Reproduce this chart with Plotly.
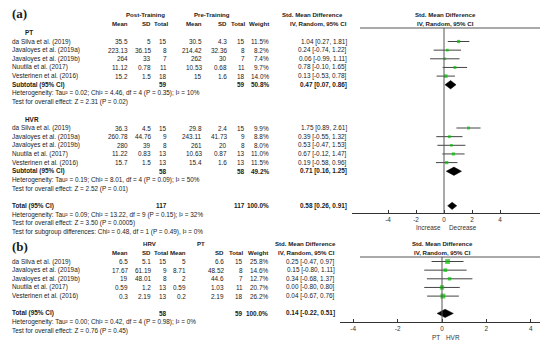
import plotly.graph_objects as go

W, H = 550, 344
FONT = "Arial, Liberation Sans, sans-serif"
TXT = "#1a1a1a"
FS = 6.4
FSH = 6.1

studies = ["da Silva et al. (2019)", "Javaloyes et al. (2019a)", "Javaloyes et al. (2019b)",
           "Nuutila et al. (2017)", "Vesterinen et al. (2016)"]

# ---- Panel (a), subgroup PT ----
pt_post_mean = [35.5, 223.13, 264, 11.12, 15.2]
pt_post_sd = [5, 36.15, 33, 0.78, 1.5]
pt_post_n = [15, 8, 7, 11, 18]
pt_pre_mean = [30.5, 214.42, 262, 10.53, 15]
pt_pre_sd = [4.3, 32.36, 30, 0.68, 1.6]
pt_pre_n = [15, 8, 7, 11, 18]
pt_weight = [11.5, 8.2, 7.4, 9.7, 14.0]
pt_smd = [1.04, 0.24, 0.06, 0.78, 0.13]
pt_lo = [0.27, -0.74, -0.99, -0.10, -0.53]
pt_hi = [1.81, 1.22, 1.11, 1.65, 0.78]
pt_sub = dict(n1=59, n2=59, w=50.8, est=0.47, lo=0.07, hi=0.86)
pt_het = "Heterogeneity: Tau² = 0.02; Chi² = 4.46, df = 4 (P = 0.35); I² = 10%"
pt_test = "Test for overall effect: Z = 2.31 (P = 0.02)"

# ---- Panel (a), subgroup HVR ----
hvr_post_mean = [36.3, 260.78, 280, 11.22, 15.7]
hvr_post_sd = [4.5, 44.76, 39, 0.83, 1.5]
hvr_post_n = [15, 9, 8, 13, 13]
hvr_pre_mean = [29.8, 243.11, 261, 10.63, 15.4]
hvr_pre_sd = [2.4, 41.73, 20, 0.87, 1.6]
hvr_pre_n = [15, 9, 8, 13, 13]
hvr_weight = [9.9, 8.8, 8.0, 11.0, 11.5]
hvr_smd = [1.75, 0.39, 0.53, 0.67, 0.19]
hvr_lo = [0.89, -0.55, -0.47, -0.12, -0.58]
hvr_hi = [2.61, 1.32, 1.53, 1.47, 0.96]
hvr_sub = dict(n1=58, n2=58, w=49.2, est=0.71, lo=0.16, hi=1.25)
hvr_het = "Heterogeneity: Tau² = 0.19; Chi² = 8.01, df = 4 (P = 0.09); I² = 50%"
hvr_test = "Test for overall effect: Z = 2.52 (P = 0.01)"

a_total = dict(n1=117, n2=117, w=100.0, est=0.58, lo=0.26, hi=0.91)
a_total_het = "Heterogeneity: Tau² = 0.09; Chi² = 13.22, df = 9 (P = 0.15); I² = 32%"
a_total_test = "Test for overall effect: Z = 3.50 (P = 0.0005)"
a_subgroup = "Test for subgroup differences: Chi² = 0.48, df = 1 (P = 0.49), I² = 0%"

# ---- Panel (b) ----
b_hrv_mean = [6.5, 17.67, 19, 0.59, 0.3]
b_hrv_sd = [5.1, 61.19, 48.01, 1.2, 2.19]
b_hrv_n = [15, 9, 8, 13, 13]
b_pt_mean = [5, 8.71, 2, 0.59, 0.2]
b_pt_sd = [6.6, 48.52, 44.6, 1.03, 2.19]
b_pt_n = [15, 8, 7, 11, 18]
b_weight = [25.8, 14.6, 12.7, 20.7, 26.2]
b_smd = [0.25, 0.15, 0.34, 0.00, 0.04]
b_lo = [-0.47, -0.80, -0.68, -0.80, -0.67]
b_hi = [0.97, 1.11, 1.37, 0.80, 0.76]
b_total = dict(n1=58, n2=59, w=100.0, est=0.14, lo=-0.22, hi=0.51)
b_het = "Heterogeneity: Tau² = 0.00; Chi² = 0.42, df = 4 (P = 0.98); I² = 0%"
b_test = "Test for overall effect: Z = 0.76 (P = 0.45)"

tick_vals = [-4, -2, 0, 2, 4]
tick_text = ["-4", "-2", "0", "2", "4"]

# ---------------- layout helpers ----------------
PITCH = 8.65
A_Y0 = 41.5
B_Y0 = 261.5


def pr(pix, y0):
    return (pix - y0) / PITCH


ann = []


def txt(x, y, s, yref, anchor="left", bold=False, size=FS, color=TXT, family=FONT):
    ann.append(dict(x=x / W, xref="paper", y=y, yref=yref,
                    text=f"<b>{s}</b>" if bold else s, showarrow=False,
                    xanchor=anchor, yanchor="middle",
                    font=dict(family=family, size=size, color=color),
                    borderpad=0, borderwidth=0))


def g(v):
    return f"{v:g}"


def ci(e, l, h):
    return f"{e:.2f} [{l:.2f}, {h:.2f}]"


fig = go.Figure()

COLS_A = dict(name=12, m1=128, s1=151, n1=167, m2=202, s2=227, n2=245, w=269, ci=347)
COLS_B = dict(name=12, m1=128, s1=151, n1=167, m2=186, s2=224, n2=243, w=268, ci=335)

GREEN = "#00c000"
LINEC = "#444444"


def study_block(rows, cols, yref, m1, s1, n1, m2, s2, n2, w, e, lo, hi):
    for i, r in enumerate(rows):
        txt(cols["name"], r, studies[i], yref)
        txt(cols["m1"], r, g(m1[i]), yref, "right")
        txt(cols["s1"], r, g(s1[i]), yref, "right")
        txt(cols["n1"], r, g(n1[i]), yref, "right")
        txt(cols["m2"], r, g(m2[i]), yref, "right")
        txt(cols["s2"], r, g(s2[i]), yref, "right")
        txt(cols["n2"], r, g(n2[i]), yref, "right")
        txt(cols["w"], r, f"{w[i]:.1f}%", yref, "right")
        txt(cols["ci"], r, ci(e[i], lo[i], hi[i]), yref, "right")


def forest(rows, xa, ya, w, e, lo, hi):
    xs, ys = [], []
    for i, r in enumerate(rows):
        xs += [lo[i], hi[i], None]
        ys += [r, r, None]
    fig.add_trace(go.Scatter(x=xs, y=ys, mode="lines", line=dict(color=LINEC, width=1),
                             xaxis=xa, yaxis=ya, hoverinfo="skip", showlegend=False))
    fig.add_trace(go.Scatter(x=e, y=rows, mode="markers",
                             marker=dict(symbol="square", color=GREEN,
                                         size=[wi ** 0.5 * 0.95 for wi in w], line=dict(width=0)),
                             xaxis=xa, yaxis=ya, showlegend=False))


def diamond(r, d, xa, ya, hh=0.48):
    fig.add_trace(go.Scatter(x=[d["lo"], d["est"], d["hi"], d["est"], d["lo"]],
                             y=[r, r - hh, r, r + hh, r], mode="lines", fill="toself",
                             fillcolor="black", line=dict(color="black", width=0.5),
                             xaxis=xa, yaxis=ya, hoverinfo="skip", showlegend=False))


def summary_row(r, label, d, cols, yref):
    txt(cols["name"], r, label, yref, bold=True)
    txt(cols["n1"], r, g(d["n1"]), yref, "right", bold=True)
    txt(cols["n2"], r, g(d["n2"]), yref, "right", bold=True)
    txt(cols["w"], r, f"{d['w']:.1f}%", yref, "right", bold=True)
    txt(cols["ci"], r, ci(d["est"], d["lo"], d["hi"]), yref, "right", bold=True)


HEAD_KEYS = [("m1", "Mean"), ("s1", "SD"), ("n1", "Total"), ("m2", "Mean"), ("s2", "SD"),
             ("n2", "Total"), ("w", "Weight"), ("ci", "IV, Random, 95% CI")]

# ---------------- Panel (a) ----------------
ya = "y"
txt(12, pr(13, A_Y0), "(a)", ya, bold=True, size=13, family="Liberation Serif, Times New Roman, serif")
h1 = pr(14.5, A_Y0)
h2 = pr(23.3, A_Y0)
txt(145, h1, "Post-Training", ya, "center", bold=True, size=FSH)
txt(212, h1, "Pre-Training", ya, "center", bold=True, size=FSH)
txt(312, h1, "Std. Mean Difference", ya, "center", bold=True, size=FSH)
txt(445, h1, "Std. Mean Difference", ya, "center", bold=True, size=FSH)
for key, lab in HEAD_KEYS:
    txt(COLS_A[key] + (1 if key == "n1" else 0), h2, lab, ya, "right", bold=True, size=FSH)
txt(445, h2, "IV, Random, 95% CI", ya, "center", bold=True, size=FSH)

# PT group
txt(25, -1, "PT", ya, bold=True)
rows_pt = list(range(0, 5))
study_block(rows_pt, COLS_A, ya, pt_post_mean, pt_post_sd, pt_post_n, pt_pre_mean, pt_pre_sd,
            pt_pre_n, pt_weight, pt_smd, pt_lo, pt_hi)
forest(rows_pt, "x", "y", pt_weight, pt_smd, pt_lo, pt_hi)
summary_row(5, "Subtotal (95% CI)", pt_sub, COLS_A, ya)
diamond(5, pt_sub, "x", "y")
txt(12, 6, pt_het, ya)
txt(12, 7, pt_test, ya)

# HVR group
txt(25, 9, "HVR", ya, bold=True)
rows_hvr = list(range(10, 15))
study_block(rows_hvr, COLS_A, ya, hvr_post_mean, hvr_post_sd, hvr_post_n, hvr_pre_mean,
            hvr_pre_sd, hvr_pre_n, hvr_weight, hvr_smd, hvr_lo, hvr_hi)
forest(rows_hvr, "x", "y", hvr_weight, hvr_smd, hvr_lo, hvr_hi)
summary_row(15, "Subtotal (95% CI)", hvr_sub, COLS_A, ya)
diamond(15, hvr_sub, "x", "y")
txt(12, 16, hvr_het, ya)
txt(12, 17, hvr_test, ya)

summary_row(19, "Total (95% CI)", a_total, COLS_A, ya)
diamond(19, a_total, "x", "y", hh=0.42)
txt(12, 20, a_total_het, ya)
txt(12, 21, a_total_test, ya)
txt(12, 22, a_subgroup, ya)

txt(428, pr(227, A_Y0), "Increase", ya, "center", color="#333")
txt(463, pr(227, A_Y0), "Decrease", ya, "center", color="#333")

# ---------------- Panel (b) ----------------
yb = "y2"
txt(12, pr(246, B_Y0), "(b)", yb, bold=True, size=13, family="Liberation Serif, Times New Roman, serif")
hb1, hb2 = pr(243.5, B_Y0), pr(252.3, B_Y0)
txt(150, hb1, "HRV", yb, "center", bold=True, size=FSH)
txt(201, hb1, "PT", yb, "center", bold=True, size=FSH)
txt(305, hb1, "Std. Mean Difference", yb, "center", bold=True, size=FSH)
txt(442, hb1, "Std. Mean Difference", yb, "center", bold=True, size=FSH)
for key, lab in HEAD_KEYS:
    txt(COLS_B[key] + (1 if key == "n1" else 0), hb2, lab, yb, "right", bold=True, size=FSH)
txt(442, hb2, "IV, Random, 95% CI", yb, "center", bold=True, size=FSH)

rows_b = list(range(0, 5))
study_block(rows_b, COLS_B, yb, b_hrv_mean, b_hrv_sd, b_hrv_n, b_pt_mean, b_pt_sd, b_pt_n,
            b_weight, b_smd, b_lo, b_hi)
forest(rows_b, "x2", "y2", b_weight, b_smd, b_lo, b_hi)
summary_row(6, "Total (95% CI)", b_total, COLS_B, yb)
diamond(6, b_total, "x2", "y2")
txt(12, 7, b_het, yb)
txt(12, 8, b_test, yb)

txt(436, pr(337, B_Y0), "PT", yb, "center", color="#333")
txt(453, pr(337, B_Y0), "HVR", yb, "center", color="#333")

# ---------------- shapes ----------------
shapes = [
    dict(type="line", xref="paper", yref="y", x0=360 / W, x1=540 / W,
         y0=pr(28, A_Y0), y1=pr(28, A_Y0), line=dict(color="#555", width=1)),
    dict(type="line", xref="x", yref="y", x0=0, x1=0,
         y0=pr(28, A_Y0), y1=pr(213, A_Y0), line=dict(color="#555", width=1)),
    dict(type="line", xref="paper", yref="y2", x0=360 / W, x1=540 / W,
         y0=pr(257, B_Y0), y1=pr(257, B_Y0), line=dict(color="#555", width=1)),
    dict(type="line", xref="x2", yref="y2", x0=0, x1=0,
         y0=pr(257, B_Y0), y1=pr(322, B_Y0), line=dict(color="#555", width=1)),
]

PXU_A = 14.0
PXU_B = 22.2
axis_common = dict(showline=True, linecolor="#333", linewidth=1, ticks="inside", ticklen=3,
                   tickcolor="#333", tickvals=tick_vals, ticktext=tick_text,
                   tickfont=dict(size=FS, family=FONT, color="#333"), showgrid=False,
                   zeroline=False, fixedrange=True, anchor="free")

fig.update_layout(
    width=W, height=H, margin=dict(l=0, r=0, t=0, b=0),
    paper_bgcolor="white", plot_bgcolor="rgba(0,0,0,0)",
    showlegend=False,
    xaxis=dict(domain=[352 / W, 540 / W], range=[(352 - 444) / PXU_A, (540 - 444) / PXU_A],
               position=1 - 213 / H, **axis_common),
    xaxis2=dict(domain=[340 / W, 540 / W], range=[(340 - 442) / PXU_B, (540 - 442) / PXU_B],
                position=1 - 322 / H, **axis_common),
    yaxis=dict(domain=[0, 1], range=[(H - A_Y0) / PITCH, -A_Y0 / PITCH], visible=False,
               fixedrange=True, anchor="x"),
    yaxis2=dict(domain=[0, 1], range=[(H - B_Y0) / PITCH, -B_Y0 / PITCH], visible=False,
                fixedrange=True, anchor="x2"),
    annotations=ann, shapes=shapes,
)

fig.write_html("out.html", config={"displayModeBar": False},
               post_script="document.body.style.margin='0';document.body.style.padding='0';")
